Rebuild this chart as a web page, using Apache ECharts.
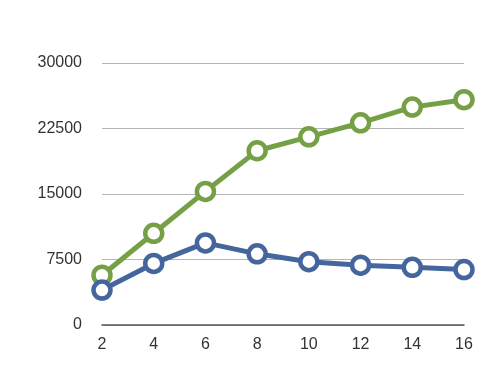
<!DOCTYPE html>
<html>
<head>
<meta charset="utf-8">
<script src="https://cdn.jsdelivr.net/npm/echarts@6/dist/echarts.min.js"></script>
<style>
html,body{margin:0;padding:0;background:#fff;}
#c{width:500px;height:380px;}
</style>
</head>
<body>
<div id="c"></div>
<script>
const categories = ['2','4','6','8','10','12','14','16'];
const greenValues = [5700, 10500, 15300, 19950, 21550, 23150, 24950, 25800];
const blueValues = [4000, 7050, 9400, 8150, 7250, 6850, 6600, 6350];
const yTicks = [0, 7500, 15000, 22500, 30000];

const chart = echarts.init(document.getElementById('c'), null, {renderer: 'canvas'});
const font = 'Liberation Sans, Arial, Helvetica, sans-serif';
function series(name, data, color) {
  return {
    name: name,
    type: 'line',
    data: data,
    symbol: 'circle',
    symbolSize: 17,
    showAllSymbol: true,
    lineStyle: {color: color, width: 5},
    itemStyle: {color: '#ffffff', borderColor: color, borderWidth: 4.5},
    emphasis: {disabled: true},
    z: 2
  };
}
chart.setOption({
  animation: false,
  backgroundColor: '#ffffff',
  grid: {left: 102, right: 36, top: 63, bottom: 55},
  xAxis: {
    type: 'category',
    data: categories,
    boundaryGap: false,
    axisLine: {lineStyle: {color: '#555555', width: 1.5}},
    axisTick: {show: false},
    axisLabel: {color: '#333333', fontSize: 16, fontFamily: font, margin: 12}
  },
  yAxis: {
    type: 'value',
    min: yTicks[0],
    max: yTicks[yTicks.length - 1],
    interval: yTicks[1] - yTicks[0],
    axisLine: {show: false},
    axisTick: {show: false},
    splitLine: {lineStyle: {color: '#b5b5b5', width: 1.2}},
    axisLabel: {color: '#333333', fontSize: 16, fontFamily: font, margin: 20,
      formatter: function (v) { return String(v); }}
  },
  series: [
    series('green', greenValues, '#76a046'),
    series('blue', blueValues, '#44669c')
  ]
});
</script>
</body>
</html>
